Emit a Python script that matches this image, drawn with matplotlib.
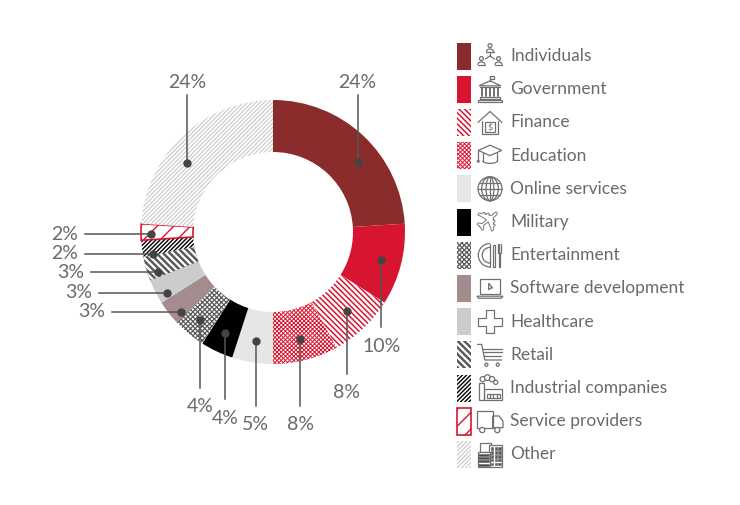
import numpy as np
import matplotlib
matplotlib.use("Agg")
import matplotlib.pyplot as plt
from matplotlib.patches import Rectangle, Circle, Ellipse, Arc, Polygon
import matplotlib.patheffects as pe

# chart data
sectors = [
    "Individuals", "Government", "Finance", "Education", "Online services",
    "Military", "Entertainment", "Software development", "Healthcare",
    "Retail", "Industrial companies", "Service providers", "Other",
]
shares = [24, 10, 8, 8, 5, 4, 4, 3, 3, 3, 2, 2, 24]
share_labels = [f"{s}%" for s in shares]

# styles: (face, edge/hatch colour, hatch, outline width, hatch width)
styles = [
    ("#8a2c2b", "#8a2c2b", None, 0, 1.0),
    ("#d81530", "#d81530", None, 0, 1.0),
    ("white", "#d81530", "\\" * 6, 0, 1.1),
    ("white", "#d81530", "x" * 8, 0, 0.7),
    ("#e6e6e6", "#e6e6e6", None, 0, 1.0),
    ("black", "black", None, 0, 1.0),
    ("white", "#5a5a5a", "x" * 7, 0, 0.9),
    ("#a48b8d", "#a48b8d", None, 0, 1.0),
    ("#cccccc", "#cccccc", None, 0, 1.0),
    ("#5a5a5a", "white", "\\" * 5, 0, 1.6),
    ("white", "black", "/" * 8, 0, 1.0),
    ("white", "#d81530", "//", 1.2, 1.0),
    ("white", "#c8c8c8", "/" * 8, 0, 0.8),
]

# label layout: (direction, text position in image px, dot angle shift, dot radius)
label_layout = [
    ("up", 82, -7, 110), ("down", 346, 0, 112), ("down", 393, 0, 108),
    ("down", 425, 0, 110), ("down", 425, 0, 110), ("down", 418, 0, 112),
    ("down", 407, 0, 114), ("left", 105, 3, 122), ("left", 92, 3, 122),
    ("left", 84, 3, 122), ("left", 78, 3, 122), ("left", 78, 1, 122),
    ("up", 82, 8, 110),
]

W, H = 740, 505
TXT = "#6a6a6a"
ICON = "#707070"
FONT = ["Lato", "DejaVu Sans"]


def Y(y):
    return H - y


def style_patch(p, st):
    fc, ec, hatch, lw, hlw = st
    p.set_facecolor(fc)
    p.set_edgecolor(ec)
    p.set_linewidth(lw)
    if hatch:
        p.set_hatch(hatch)
        if hasattr(p, "set_hatch_linewidth"):
            p.set_hatch_linewidth(hlw)


plt.rcParams["font.family"] = FONT
plt.rcParams["hatch.linewidth"] = 1.0

fig = plt.figure(figsize=(W / 100, H / 100), dpi=100)
ax = fig.add_axes([0, 0, 1, 1])

cx, cy = 273, Y(232)
wedges, _ = ax.pie(shares, startangle=90, counterclock=False, center=(cx, cy),
                   radius=132, wedgeprops=dict(width=52, linewidth=0))
for w, st in zip(wedges, styles):
    style_patch(w, st)

# percentage labels with leader lines
for w, lab, (mode, pos, shift, r) in zip(wedges, share_labels, label_layout):
    mid = np.deg2rad((w.theta1 + w.theta2) / 2 + shift)
    dx, dy = cx + r * np.cos(mid), cy + r * np.sin(mid)
    if mode == "up":
        ax.plot([dx, dx], [dy, Y(pos + 13)], color="#555555", lw=1.1)
        ax.text(dx, Y(pos), lab, ha="center", va="center", fontsize=14,
                color=TXT)
    elif mode == "down":
        ax.plot([dx, dx], [dy, Y(pos - 19)], color="#555555", lw=1.1)
        ax.text(dx, Y(pos), lab, ha="center", va="center", fontsize=14,
                color=TXT)
    else:
        ax.plot([dx, pos + 7], [dy, dy], color="#555555", lw=1.1)
        ax.text(pos, dy, lab, ha="right", va="center", fontsize=14,
                color=TXT)
    ax.plot(dx, dy, "o", color="#444444", ms=5)


# ---- legend icons -------------------------------------------------------
def icon(k, ix, iy, s=26):
    def P(u, v):
        return ix + (u - 0.5) * s, iy + (v - 0.5) * s

    def ln(*pts, lw=0.9):
        xs, ys = zip(*[P(u, v) for u, v in pts])
        ax.plot(xs, ys, color=ICON, lw=lw, solid_capstyle="round")

    def poly(*pts, fc="none", lw=0.9):
        ax.add_patch(Polygon([P(u, v) for u, v in pts], closed=True,
                             fc=fc, ec=ICON, lw=lw))

    def rect(u0, v0, u1, v1, fc="none", lw=0.9):
        x0, y0 = P(u0, v0)
        ax.add_patch(Rectangle((x0, y0), (u1 - u0) * s, (v1 - v0) * s,
                               fc=fc, ec=ICON, lw=lw))

    def circ(u, v, r, fc="none", lw=0.9):
        ax.add_patch(Circle(P(u, v), r * s, fc=fc, ec=ICON, lw=lw))

    def arc(u, v, w, h, t1, t2, lw=0.9):
        ax.add_patch(Arc(P(u, v), w * s, h * s, theta1=t1, theta2=t2,
                         ec=ICON, lw=lw))

    if k == 0:
        for u, v in [(0.5, 0.9), (0.17, 0.4), (0.83, 0.4)]:
            circ(u, v, 0.075)
            arc(u, v - 0.24, 0.28, 0.22, 0, 180)
            ln((u - 0.14, v - 0.24), (u + 0.14, v - 0.24))
        ln((0.5, 0.62), (0.5, 0.5))
        ln((0.5, 0.5), (0.32, 0.38))
        ln((0.5, 0.5), (0.68, 0.38))
    elif k == 1:
        ln((0.5, 0.8), (0.5, 1.02))
        rect(0.5, 0.9, 0.66, 1.02)
        poly((0.08, 0.63), (0.5, 0.82), (0.92, 0.63))
        ln((0.12, 0.57), (0.88, 0.57))
        for u in [0.2, 0.35, 0.5, 0.65, 0.8]:
            ln((u, 0.22), (u, 0.53), lw=1.4)
        rect(0.1, 0.12, 0.9, 0.2)
        rect(0.04, 0.02, 0.96, 0.1)
    elif k == 2:
        ln((0.18, 0.55), (0.18, 0.05), (0.82, 0.05), (0.82, 0.55))
        ln((0.04, 0.5), (0.5, 0.92), (0.96, 0.5))
        rect(0.32, 0.14, 0.68, 0.5)
        ax.text(*P(0.5, 0.32), "$", ha="center", va="center", fontsize=6,
                color=ICON, family=["DejaVu Sans"])
    elif k == 3:
        poly((0.05, 0.7), (0.5, 0.9), (0.95, 0.7), (0.5, 0.5))
        ln((0.22, 0.6), (0.22, 0.3))
        ln((0.78, 0.6), (0.78, 0.3))
        arc(0.5, 0.3, 0.56, 0.2, 180, 360)
        ln((0.05, 0.7), (0.05, 0.32))
        circ(0.05, 0.28, 0.035)
    elif k == 4:
        circ(0.5, 0.5, 0.46)
        for wd in [0.3, 0.64]:
            ax.add_patch(Ellipse(P(0.5, 0.5), wd * s, 0.92 * s, fc="none",
                                 ec=ICON, lw=0.9))
        ln((0.5, 0.04), (0.5, 0.96))
        for v in [0.27, 0.5, 0.73]:
            hw = np.sqrt(0.46 ** 2 - (v - 0.5) ** 2)
            ln((0.5 - hw, v), (0.5 + hw, v))
    elif k == 5:
        ax.text(*P(0.5, 0.5), "\u2708", ha="center", va="center", fontsize=22,
                rotation=40, color="white", family=["DejaVu Sans"],
                path_effects=[pe.withStroke(linewidth=1.3, foreground=ICON)])
    elif k == 6:
        arc(0.5, 0.5, 0.9, 0.9, 90, 270)
        arc(0.5, 0.5, 0.6, 0.6, 90, 270)
        ln((0.5, 0.05), (0.5, 0.95))
        rect(0.6, 0.05, 0.7, 0.9)
        rect(0.83, 0.05, 0.9, 0.58)
        for u in [0.8, 0.865, 0.93]:
            ln((u, 0.58), (u, 0.95))
    elif k == 7:
        rect(0.12, 0.28, 0.88, 0.86)
        poly((0.0, 0.2), (1.0, 0.2), (0.94, 0.12), (0.06, 0.12))
        poly((0.45, 0.7), (0.45, 0.44), (0.52, 0.51), (0.6, 0.51))
    elif k == 8:
        poly((0.35, 0.05), (0.65, 0.05), (0.65, 0.35), (0.95, 0.35),
             (0.95, 0.65), (0.65, 0.65), (0.65, 0.95), (0.35, 0.95),
             (0.35, 0.65), (0.05, 0.65), (0.05, 0.35), (0.35, 0.35))
    elif k == 9:
        ln((0.02, 0.9), (0.18, 0.9), (0.3, 0.3), (0.95, 0.3))
        ln((0.2, 0.74), (0.98, 0.74))
        ln((0.24, 0.59), (0.95, 0.59))
        ln((0.27, 0.44), (0.92, 0.44))
        circ(0.36, 0.12, 0.06)
        circ(0.8, 0.12, 0.06)
    elif k == 10:
        rect(0.06, 0.03, 0.26, 0.7)
        rect(0.26, 0.03, 0.95, 0.45)
        rect(0.38, 0.1, 0.88, 0.28)
        for u in [0.5, 0.62, 0.75]:
            ln((u, 0.1), (u, 0.28))
        circ(0.22, 0.84, 0.1, fc="white")
        circ(0.4, 0.9, 0.11, fc="white")
        circ(0.58, 0.84, 0.1, fc="white")
        circ(0.72, 0.72, 0.08, fc="white")
    elif k == 11:
        rect(0.0, 0.25, 0.6, 0.9)
        poly((0.6, 0.25), (1.0, 0.25), (1.0, 0.5), (0.85, 0.7), (0.6, 0.7))
        circ(0.2, 0.16, 0.1, fc="white")
        circ(0.78, 0.16, 0.1, fc="white")
    elif k == 12:
        rect(0.12, 0.6, 0.55, 0.95)
        rect(0.48, 0.0, 0.96, 0.85, fc="white")
        for i in range(3):
            for j in range(5):
                u0 = 0.54 + i * 0.14
                v0 = 0.08 + j * 0.15
                rect(u0, v0, u0 + 0.09, v0 + 0.09, fc="#5a5a5a", lw=0.5)
        rect(0.02, 0.0, 0.5, 0.6, fc="white")
        for j in range(4):
            v0 = 0.06 + j * 0.13
            rect(0.05, v0, 0.47, v0 + 0.08, fc="#4a4a4a", lw=0.5)


# ---- legend ---------------------------------------------------------------
for i, (name, st) in enumerate(zip(sectors, styles)):
    ry = Y(56 + 33.2 * i)
    sw = Rectangle((457, ry - 13.5), 14, 27)
    style_patch(sw, st)
    ax.add_patch(sw)
    icon(i, 490, ry)
    ax.text(510, ry, name, ha="left", va="center", fontsize=12.5,
            color=TXT)

ax.set_xlim(0, W)
ax.set_ylim(0, H)
ax.set_aspect("auto")
ax.axis("off")

fig.savefig("out.png", dpi=100, facecolor="white")
